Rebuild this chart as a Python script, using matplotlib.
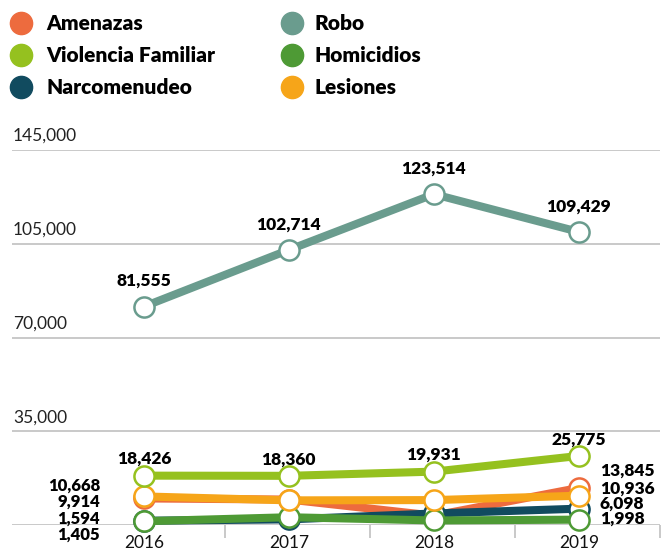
import numpy as np
import matplotlib.pyplot as plt
from matplotlib.lines import Line2D

plt.rcParams['font.family'] = ['Lato', 'DejaVu Sans']

# datos
years = ['2016', '2017', '2018', '2019']
robo = [81555, 102714, 123514, 109429]
violencia = [18426, 18360, 19931, 25775]
lesiones = [10668, 9200, 9300, 10936]
amenazas = [9914, 9500, 3500, 13845]
narcomenudeo = [1594, 2100, 4300, 6098]
homicidios = [1405, 2900, 1700, 1998]

y_ticks = [35000, 70000, 105000, 140000]
y_tick_labels = ['35,000', '70,000', '105,000', '145,000']

colors = {
    'Amenazas': '#ED6B3E',
    'Robo': '#6A9C8E',
    'Violencia Familiar': '#95C11F',
    'Homicidios': '#4E9A35',
    'Narcomenudeo': '#114B5F',
    'Lesiones': '#F6A519',
}

fig = plt.figure(figsize=(6.62, 5.51), dpi=100)
ax = fig.add_axes([12 / 662, 1 - 525 / 551, 648 / 662, 375 / 551])
ax.set_xlim(-0.91, 3.56)
ax.set_ylim(0, 140000)
for s in ax.spines.values():
    s.set_visible(False)

x = np.arange(len(years))

# rejilla
grid_c = '#BBBBBB'
for yt, lab in zip(y_ticks, y_tick_labels):
    ax.axhline(yt, color=grid_c, lw=1.1, zorder=1)
    ax.annotate(lab, xy=(0, yt), xycoords=('axes fraction', 'data'),
                xytext=(1, 9), textcoords='offset pixels',
                ha='left', va='baseline', fontsize=12.5, color='#222222')
ax.axhline(0, color=grid_c, lw=1.1, zorder=1)

ax.set_yticks([])
ax.set_xticks(x, labels=years)
ax.set_xticks(x + 0.56, minor=True)
ax.tick_params(axis='x', which='major', length=0, pad=7, labelsize=12.5, labelcolor='#111111')
ax.tick_params(axis='x', which='minor', length=9, width=1.1, color=grid_c, direction='out')


def serie(vals, name, z, lw=5.8):
    ax.plot(x, vals, color=colors[name], lw=lw, marker='o', ms=14.5,
            mfc='white', mec=colors[name], mew=1.8, zorder=z, clip_on=False,
            solid_capstyle='round')


serie(amenazas, 'Amenazas', 3)
serie(narcomenudeo, 'Narcomenudeo', 4)
serie(homicidios, 'Homicidios', 5)
serie(lesiones, 'Lesiones', 6)
serie(violencia, 'Violencia Familiar', 7)
serie(robo, 'Robo', 8)


def etiqueta(xi, v, dx, dy, ha='center', fs=12.5):
    ax.annotate(f'{v:,}', xy=(xi, v), xytext=(dx, dy), textcoords='offset pixels',
                ha=ha, va='center_baseline', fontsize=fs, fontweight='heavy',
                color='black', zorder=10)


for i, v in enumerate(robo):
    etiqueta(i, v, 0, 27)
for i, v in enumerate(violencia):
    etiqueta(i, v, 0, 18)

# etiquetas izquierda (2016)
etiqueta(0, lesiones[0], -44, 12.5, 'right', 12)
etiqueta(0, amenazas[0], -44, -1.5, 'right', 12)
etiqueta(0, narcomenudeo[0], -44, 4, 'right', 12)
etiqueta(0, homicidios[0], -44, -12, 'right', 12)

# etiquetas derecha (2019)
etiqueta(3, amenazas[3], 21, 19, 'left')
etiqueta(3, lesiones[3], 21, 9, 'left')
etiqueta(3, narcomenudeo[3], 21, 6, 'left')
etiqueta(3, homicidios[3], 21, 2, 'left')

# leyenda
legend_cols = [['Amenazas', 'Violencia Familiar', 'Narcomenudeo'],
               ['Robo', 'Homicidios', 'Lesiones']]
for col, cx, tx in zip(legend_cols, [21, 292], [46, 314]):
    for j, name in enumerate(col):
        yy = 1 - (23 + 32 * j) / 551
        fig.add_artist(Line2D([cx / 662], [yy], marker='o', ms=16, color=colors[name],
                              mec=colors[name], transform=fig.transFigure))
        fig.text(tx / 662, yy, name, ha='left', va='center', fontsize=15,
                 fontweight='heavy', color='black')

fig.savefig('out.png', dpi=100)
